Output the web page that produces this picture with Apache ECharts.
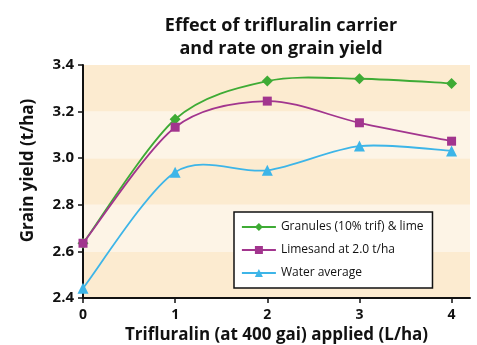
<!DOCTYPE html>
<html>
<head>
<meta charset="utf-8">
<script src="https://cdn.jsdelivr.net/npm/echarts@6/dist/echarts.min.js"></script>
<style>
  html, body { margin: 0; padding: 0; background: #ffffff; }
  #chart { width: 477px; height: 345px; }
</style>
</head>
<body>
<div id="chart"></div>
<script>
// Trifluralin rate (L/ha) on the x axis
const rates = [0, 1, 2, 3, 4];
// Grain yield (t/ha) for each carrier
const granules = [2.635, 3.167, 3.331, 3.341, 3.321];
const limesand = [2.635, 3.133, 3.245, 3.152, 3.073];
const water = [2.442, 2.94, 2.948, 3.052, 3.031];

const FONT = '"Open Sans", "Noto Sans", sans-serif';
const GREEN = '#3eab35', PURPLE = '#a2358e', BLUE = '#3db5e8';

const pair = (xs, ys) => xs.map((x, i) => [x, ys[i]]);

// Cardinal-spline segment from point i to point i+1, drawn through the axes' scales
function splineSegment(ys, color) {
  return function (params, api) {
    const i = params.dataIndex;
    if (i >= rates.length - 1) return null;
    const pt = j => {
      const k = Math.max(0, Math.min(rates.length - 1, j));
      return api.coord([rates[k], ys[k]]);
    };
    const p0 = pt(i - 1), p1 = pt(i), p2 = pt(i + 1), p3 = pt(i + 2);
    const t = 0.15;
    return {
      type: 'bezierCurve',
      shape: {
        x1: p1[0], y1: p1[1],
        cpx1: p1[0] + (p2[0] - p0[0]) * t, cpy1: p1[1] + (p2[1] - p0[1]) * t,
        cpx2: p2[0] - (p3[0] - p1[0]) * t, cpy2: p2[1] - (p3[1] - p1[1]) * t,
        x2: p2[0], y2: p2[1]
      },
      style: { stroke: color, lineWidth: 1.8, fill: null }
    };
  };
}

function curve(name, ys, color) {
  return {
    name: name + ' curve',
    type: 'custom',
    coordinateSystem: 'cartesian2d',
    data: pair(rates, ys),
    renderItem: splineSegment(ys, color),
    silent: true,
    z: 1
  };
}

function markers(name, ys, color, symbol, size) {
  return {
    name: name,
    type: 'line',
    data: pair(rates, ys),
    symbol: symbol,
    symbolSize: size,
    itemStyle: { color: color },
    lineStyle: { color: color, width: 1.8, opacity: 0 },
    z: 5
  };
}

const chart = echarts.init(document.getElementById('chart'));
chart.setOption({
  animation: false,
  backgroundColor: '#ffffff',
  textStyle: { fontFamily: FONT },
  title: {
    text: 'Effect of trifluralin carrier\nand rate on grain yield',
    left: 276,
    textAlign: 'center',
    top: 9,
    textStyle: { fontFamily: FONT, fontSize: 18, fontWeight: 'bold', color: '#111', lineHeight: 23 }
  },
  grid: { left: 83, right: 7, top: 65, bottom: 47, outerBoundsMode: 'none', containLabel: false },
  legend: {
    orient: 'vertical',
    left: 234,
    top: 212,
    backgroundColor: '#ffffff',
    borderColor: '#111',
    borderWidth: 1.5,
    borderRadius: 0,
    padding: [9, 9, 9, 7],
    itemWidth: 34,
    itemHeight: 10,
    itemGap: 11,
    textStyle: { fontFamily: FONT, fontSize: 12, color: '#111' },
    data: [
      { name: 'Granules (10% trif) & lime', lineStyle: { color: GREEN, width: 1.8, opacity: 1 } },
      { name: 'Limesand at 2.0 t/ha', lineStyle: { color: PURPLE, width: 1.8, opacity: 1 } },
      { name: 'Water average', lineStyle: { color: BLUE, width: 1.8, opacity: 1 } }
    ]
  },
  xAxis: {
    type: 'value',
    min: 0,
    max: 4.2,
    interval: 1,
    name: 'Trifluralin (at 400 gai) applied (L/ha)',
    nameLocation: 'middle',
    nameGap: 17,
    nameTextStyle: { fontFamily: FONT, fontSize: 17, fontWeight: 'bold', color: '#111' },
    axisLine: { lineStyle: { color: '#111', width: 2 } },
    axisTick: { length: 5, lineStyle: { color: '#111', width: 1.5 }, customValues: rates },
    axisLabel: { fontFamily: FONT, fontSize: 14, fontWeight: 'bold', color: '#111', margin: 10, customValues: rates },
    splitLine: { show: false }
  },
  yAxis: {
    type: 'value',
    min: 2.4,
    max: 3.4,
    interval: 0.2,
    name: 'Grain yield (t/ha)',
    nameLocation: 'middle',
    nameGap: 46,
    nameTextStyle: { fontFamily: FONT, fontSize: 17, fontWeight: 'bold', color: '#111', padding: [0, 0, 0, 22] },
    axisLine: { show: true, lineStyle: { color: '#111', width: 2 } },
    axisTick: { show: true, length: 5, lineStyle: { color: '#111', width: 1.5 } },
    axisLabel: {
      fontFamily: FONT, fontSize: 15, fontWeight: 'bold', color: '#111', margin: 9,
      formatter: v => v.toFixed(1)
    },
    splitLine: { show: false },
    splitArea: { show: true, areaStyle: { color: ['#fcebd0', '#fdf4e6'] } }
  },
  series: [
    curve('Water average', water, BLUE),
    curve('Granules (10% trif) & lime', granules, GREEN),
    curve('Limesand at 2.0 t/ha', limesand, PURPLE),
    markers('Granules (10% trif) & lime', granules, GREEN, 'diamond', 11),
    markers('Limesand at 2.0 t/ha', limesand, PURPLE, 'rect', 9),
    markers('Water average', water, BLUE, 'triangle', 11)
  ]
});
</script>
</body>
</html>
